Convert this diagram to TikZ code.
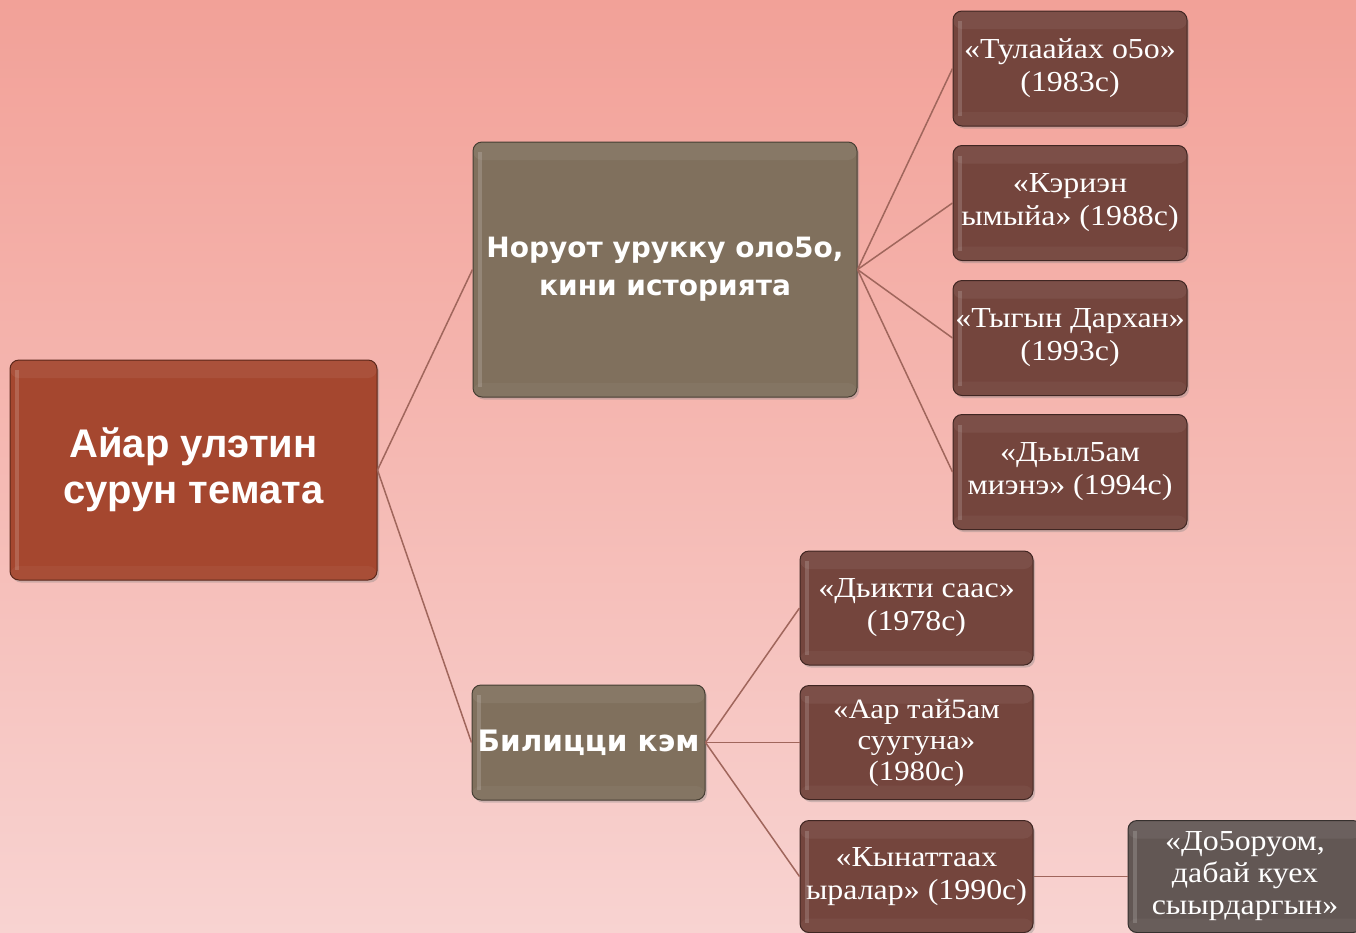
\documentclass[tikz,border=0pt]{standalone}
\usepackage{fontspec}
\setmainfont[FakeStretch=1.1]{Liberation Serif}
\newfontfamily\rootfont{Liberation Sans}
\newfontfamily\midfont{DejaVu Sans}
\usetikzlibrary{shadows}
\definecolor{bgtop}{HTML}{F2A198}
\definecolor{bgmid}{HTML}{F5B9B3}
\definecolor{bgbot}{HTML}{F8D3D1}
\definecolor{rootc}{HTML}{A5472F}
\definecolor{olivec}{HTML}{80705D}
\definecolor{maroonc}{HTML}{74453D}
\definecolor{greyc}{HTML}{625754}
\definecolor{linec}{HTML}{A0665C}
\begin{document}
\begin{tikzpicture}[x=1pt,y=-1pt,
  box/.style={rounded corners=9pt, draw=#1!55!black, line width=1pt, fill=#1,
    text=white, align=center, inner sep=0pt, anchor=center,
    drop shadow={shadow xshift=2pt, shadow yshift=-2.5pt, opacity=0.35},
    path picture={
      \draw[white, opacity=0.16, line width=4pt]
        ([xshift=7pt,yshift=-10pt]path picture bounding box.north west) --
        ([xshift=7pt,yshift=10pt]path picture bounding box.south west);
      \fill[white, opacity=0.06]
        (path picture bounding box.north west) rectangle
        ([yshift=-18pt]path picture bounding box.north east);
      \fill[white, opacity=0.04]
        (path picture bounding box.south west) rectangle
        ([yshift=14pt]path picture bounding box.south east);
    }},
  rootbox/.style={box=rootc, minimum width=367pt, minimum height=220pt,
    font=\rootfont\bfseries\fontsize{40}{46}\selectfont},
  olivebox/.style={box=olivec, font=\midfont\bfseries\fontsize{28}{38}\selectfont},
  workbox/.style={box=maroonc, minimum width=234pt, minimum height=115pt,
    font=\fontsize{29}{33}\selectfont},
  greybox/.style={box=greyc, minimum width=234pt, minimum height=112pt,
    font=\fontsize{29}{32}\selectfont},
  link/.style={draw=linec, line width=1.5pt}
]
\useasboundingbox (0,0) rectangle (1356,932);
\shade[top color=bgtop, bottom color=bgbot, middle color=bgmid] (0,0) rectangle (1356,932);

% root
\node[rootbox] (root) at (193.5,470) {Айар улэтин\\сурун темата};
% level 2
\node[olivebox, minimum width=384pt, minimum height=255pt] (hist) at (665,269.5) {Норуот урукку оло5о,\\кини историята};
\node[olivebox, minimum width=233pt, minimum height=115pt, font=\midfont\bfseries\fontsize{29.5}{36}\selectfont] (love) at (588.5,742.5) {Билицци кэм};
% level 3 upper
\node[workbox] (w1) at (1070,68.5) {«Тулаайах о5о»\\(1983с)};
\node[workbox] (w2) at (1070,203) {«Кэриэн\\ымыйа» (1988с)};
\node[workbox] (w3) at (1070,338) {«Тыгын Дархан»\\(1993с)};
\node[workbox] (w4) at (1070,472) {«Дьыл5ам\\миэнэ» (1994с)};
% level 3 lower
\node[workbox, minimum width=233pt, minimum height=114pt] (l1) at (916.5,608) {«Дьикти саас»\\(1978с)};
\node[workbox, minimum width=233pt, minimum height=114pt, font=\fontsize{28}{31}\selectfont] (l2) at (916.5,742.5) {«Аар тай5ам\\суугуна»\\(1980с)};
\node[workbox, minimum width=233pt, minimum height=112pt] (l3) at (916.5,876.5) {«Кынаттаах\\ыралар» (1990с)};
% level 4
\node[greybox] (g1) at (1245,876.5) {«До5оруом,\\дабай куех\\сыырдаргын»};

% connectors
\draw[link] (root.east) -- (hist.west);
\draw[link] (root.east) -- (love.west);
\foreach \n in {w1,w2,w3,w4} \draw[link] (hist.east) -- (\n.west);
\foreach \n in {l1,l2,l3} \draw[link] (love.east) -- (\n.west);
\draw[link] (l3.east) -- (g1.west);
\end{tikzpicture}
\end{document}
